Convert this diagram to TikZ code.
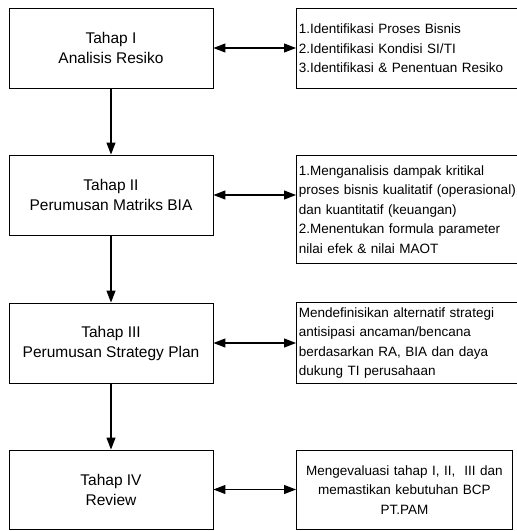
\documentclass[tikz,border=0pt]{standalone}
\usepackage{fontspec}
\setmainfont{Liberation Sans}
\usetikzlibrary{arrows.meta}
\begin{document}
\begin{tikzpicture}[x=1pt,y=-1pt,
  stage/.style={draw, line width=0.9pt, minimum width=204pt, minimum height=80pt,
    inner sep=0pt, align=center, font=\fontsize{15.5}{20}\selectfont},
  info/.style={draw, line width=0.9pt, inner xsep=2.5pt, inner ysep=0pt,
    align=left, anchor=north west, minimum width=229pt, text width=224pt,
    font=\fontsize{13.5}{19.4}\selectfont},
  flow/.style={line width=1.2pt, -{Triangle[length=12pt,width=9pt]}},
  link/.style={line width=1.2pt, {Triangle[length=12pt,width=9pt]}-{Triangle[length=12pt,width=9pt]}}]
\useasboundingbox (0,0) rectangle (517,531);

\node[stage] (s1) at (111,48) {Tahap I\\Analisis Resiko};
\node[stage] (s2) at (111,195) {Tahap II\\Perumusan Matriks BIA};
\node[stage] (s3) at (111,343) {Tahap III\\Perumusan Strategy Plan};
\node[stage, minimum height=79pt] (s4) at (111,489.5) {Tahap IV\\Review};

\node[info, minimum height=80pt] (r1) at (296,8)
  {1.Identifikasi Proses Bisnis\\2.Identifikasi Kondisi SI/TI\\3.Identifikasi \& Penentuan Resiko};
\node[info, minimum height=108pt] (r2) at (296,155)
  {1.Menganalisis dampak kritikal\\proses bisnis kualitatif (operasional)\\dan kuantitatif (keuangan)\\2.Menentukan formula parameter\\nilai efek \& nilai MAOT};
\node[info, minimum height=81pt] (r3) at (296,302)
  {Mendefinisikan alternatif strategi\\antisipasi ancaman/bencana\\berdasarkan RA, BIA dan daya\\dukung TI perusahaan};
\node[info, minimum height=79pt, minimum width=216pt, text width=211pt, align=center] (r4) at (296,450)
  {Mengevaluasi tahap I, II,\ \ III dan\\memastikan kebutuhan BCP\\PT.PAM};

\draw[flow] (s1.south) -- (s2.north);
\draw[flow] (s2.south) -- (s3.north);
\draw[flow] (s3.south) -- (s4.north);

\draw[link] (s1.east) -- (r1.west |- s1.east);
\draw[link] (s2.east) -- (r2.west |- s2.east);
\draw[link] (s3.east) -- (r3.west |- s3.east);
\draw[link] (s4.east) -- (r4.west |- s4.east);
\end{tikzpicture}
\end{document}
